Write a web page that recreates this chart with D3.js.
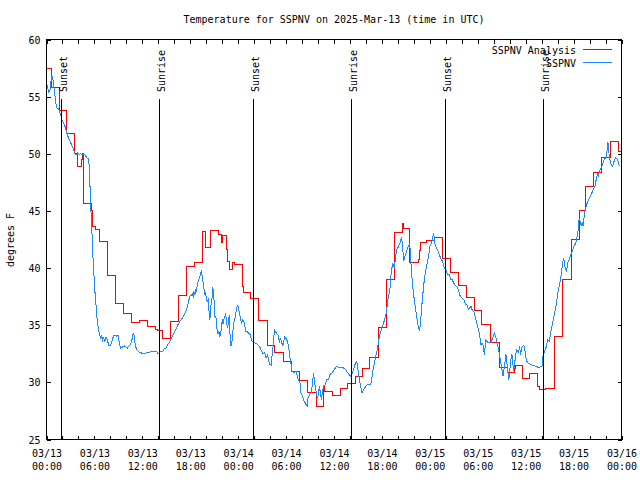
<!DOCTYPE html>
<html><head><meta charset="utf-8">
<script src="https://cdn.jsdelivr.net/npm/d3@7"></script>
<style>
body{margin:0;background:#fff}
svg{display:block;background:#fff}
text{font-family:"DejaVu Sans Mono","Liberation Mono",monospace;font-size:10px;fill:#000}
</style></head><body>
<svg id="chart" width="640" height="480"></svg>
<script>
// ---- data ----
const titleText = "Temperature for SSPNV on 2025-Mar-13 (time in UTC)";
const yLabelText = "degrees F";
const seriesNames = ["SSPNV Analysis", "SSPNV"];
const seriesColors = ["#ff0000", "#1a8cff"];
const xTickHours = d3.range(0, 73, 2);           // hours after 03/13 00:00
const xLabelHours = [0, 6, 12, 18, 24, 30, 36, 42, 48, 54, 60, 66, 72];
const xLabelDates = ["03/13","03/13","03/13","03/13","03/14","03/14","03/14","03/14","03/15","03/15","03/15","03/15","03/16"];
const xLabelTimes = ["00:00","06:00","12:00","18:00","00:00","06:00","12:00","18:00","00:00","06:00","12:00","18:00","00:00"];
const yTicks = [25, 30, 35, 40, 45, 50, 55, 60];
const eventNames = ["Sunset","Sunrise","Sunset","Sunrise","Sunset","Sunrise"];
const eventHours = [1.88, 14.15, 25.92, 38.19, 49.96, 62.23];

// analysis (hour, degF) - stepped
const analysis = [[0,57.43],[0.59,55.77],[1.58,53.79],[2.54,51.75],[3.55,50.0],[3.84,48.86],[4.42,49.5],[4.55,50.0],[4.67,45.65],[5.67,45.0],[5.8,43.65],[6.13,43.4],[6.6,42.36],[7.6,39.35],[8.58,36.88],[9.68,36.03],[10.64,35.2],[11.68,35.42],[12.7,34.87],[13.64,34.64],[13.85,34.5],[14.56,33.85],[15.52,35.3],[16.56,37.6],[17.52,40.17],[18.56,40.47],[19.52,43.24],[19.9,41.78],[20.55,43.32],[21.5,42.9],[21.95,42.2],[22.1,42.85],[22.5,41.6],[22.65,40.6],[22.9,39.87],[23.3,40.5],[23.55,40.3],[24.5,38.4],[24.65,37.84],[25.6,37.3],[26.6,35.4],[27.7,33.2],[28.55,32.64],[29.65,31.85],[30.7,30.98],[31.67,30.2],[32.7,29.08],[33.75,27.86],[34.67,29.6],[34.8,29.2],[35.75,28.85],[36.76,29.46],[37.71,29.9],[38.67,30.54],[39.6,31.18],[40.5,32.15],[41.6,34.8],[42.6,39.0],[43.55,43.08],[44.55,43.87],[44.7,43.5],[45.5,40.46],[46.6,40.75],[46.7,41.5],[46.85,42.2],[47.6,42.4],[48.56,42.7],[49.6,40.8],[50.6,39.65],[51.55,38.5],[52.53,37.4],[53.6,36.25],[54.5,35.06],[55.57,33.5],[56.7,31.3],[57.74,30.9],[58.6,31.2],[58.75,31.5],[59.6,30.3],[60.45,30.78],[61.5,29.66],[61.7,29.37],[62.5,29.5],[63.6,34.0],[64.6,39.0],[65.7,42.5],[66.8,45.0],[67.55,47.1],[68.46,48.4],[69.55,49.64],[70.67,51.04],[71.6,50.2],[72,50.2]];

// station observations (hour, degF)
const observed = [[0,56.06],[0.125,55.9],[0.25,55.4],[0.375,55.5],[0.46,55.6],[0.54,56.2],[0.67,56.85],[0.75,56.5],[0.79,56.7],[0.875,55.9],[1.0,55.6],[1.08,54.9],[1.2,54.3],[1.3,54.0],[1.5,53.97],[1.63,53.7],[1.8,53.4],[1.92,53.0],[2.13,52.7],[2.33,52.36],[2.54,51.84],[2.75,51.4],[2.96,51.1],[3.17,50.7],[3.38,50.4],[3.58,49.94],[3.79,49.94],[3.92,50.1],[4.13,49.94],[4.29,50.0],[4.54,49.94],[4.83,49.9],[5.04,49.65],[5.25,49.56],[5.375,48.8],[5.46,46.9],[5.54,45.4],[5.625,44.1],[5.71,42.8],[5.79,41.3],[5.875,40.2],[6.0,38.7],[6.125,37.3],[6.21,36.7],[6.29,35.8],[6.42,35.1],[6.54,34.5],[6.71,34.05],[6.79,33.76],[6.92,34.1],[7.04,33.7],[7.17,33.9],[7.29,33.5],[7.46,33.97],[7.625,33.7],[7.79,33.24],[8.0,33.24],[8.21,33.6],[8.375,34.05],[8.58,34.1],[8.79,34.05],[9.0,34.1],[9.125,33.3],[9.29,33.0],[9.54,33.1],[9.83,33.2],[10.125,33.0],[10.375,33.2],[10.54,33.3],[10.71,33.76],[10.875,34.34],[11.0,34.05],[11.125,33.2],[11.29,32.9],[11.5,32.7],[11.79,32.6],[12.125,32.5],[12.54,32.6],[12.875,32.65],[13.17,32.7],[13.46,32.65],[13.71,32.74],[14.0,32.5],[14.29,32.74],[14.54,32.7],[14.71,32.9],[14.96,33.0],[15.125,33.24],[15.375,33.5],[15.67,33.9],[15.875,34.2],[16.08,34.5],[16.29,34.8],[16.5,35.1],[16.71,35.36],[17.04,35.65],[17.25,35.95],[17.46,36.24],[17.67,36.7],[17.79,37.1],[17.96,37.55],[18.17,37.6],[18.29,37.84],[18.375,37.4],[18.46,37.9],[18.58,37.7],[18.71,38.13],[18.79,38.0],[18.92,38.7],[19.0,38.86],[19.21,39.3],[19.33,39.6],[19.42,39.74],[19.54,39.0],[19.67,38.57],[19.79,37.7],[19.92,37.84],[20.0,37.4],[20.125,37.1],[20.25,37.26],[20.33,36.4],[20.46,35.5],[20.58,36.7],[20.67,36.97],[20.75,37.6],[20.83,38.3],[20.92,37.84],[21.0,36.97],[21.08,35.8],[21.21,35.8],[21.29,35.07],[21.375,34.5],[21.46,34.2],[21.58,34.5],[21.71,34.05],[21.79,34.2],[21.92,34.8],[22.0,35.5],[22.125,35.07],[22.25,35.65],[22.42,35.95],[22.54,35.5],[22.625,34.8],[22.75,35.07],[22.875,35.86],[22.96,34.5],[23.04,33.24],[23.2,33.24],[23.29,34.34],[23.375,34.64],[23.5,35.45],[23.625,35.65],[23.79,36.4],[23.95,36.8],[24.16,36.1],[24.41,35.2],[24.57,35.5],[24.82,35.2],[24.9,34.5],[25.2,34.4],[25.49,34.2],[25.74,33.6],[26.24,33.4],[26.66,33.17],[27.08,32.5],[27.33,32.6],[27.49,32.15],[27.7,32.4],[27.91,31.56],[28.16,31.5],[28.24,32.3],[28.37,33.17],[28.45,33.75],[28.53,34.6],[28.78,34.33],[29.03,34.1],[29.16,33.46],[29.28,33.9],[29.49,33.4],[29.58,33.17],[29.83,33.98],[30.08,33.75],[30.33,33.17],[30.41,32.44],[30.54,32.0],[30.75,30.98],[31.0,30.83],[31.24,30.98],[31.5,30.25],[31.75,29.96],[31.87,29.08],[32.0,28.85],[32.25,28.35],[32.41,28.2],[32.54,27.98],[32.66,27.9],[32.75,28.65],[32.91,28.9],[33.16,29.08],[33.29,29.8],[33.42,30.78],[33.55,30.25],[33.67,29.5],[33.92,28.65],[34.04,28.93],[34.17,29.66],[34.42,28.5],[34.67,29.66],[34.92,29.8],[35.08,30.25],[35.33,30.25],[35.5,30.69],[35.75,30.83],[35.92,30.98],[36.25,31.36],[36.67,31.33],[37.08,31.33],[37.5,31.07],[37.71,30.83],[38.13,30.48],[38.42,31.07],[38.67,31.65],[38.84,31.85],[39.09,30.69],[39.26,29.96],[39.5,29.08],[39.84,29.5],[40.17,29.8],[40.5,29.8],[40.67,29.96],[40.88,31.1],[41.14,32.0],[41.46,33.0],[41.68,34.04],[42.09,34.9],[42.51,35.94],[42.76,37.25],[43.05,38.4],[43.13,39.3],[43.34,40.46],[43.55,40.0],[43.68,40.75],[43.84,41.6],[44.09,41.9],[44.26,42.2],[44.47,42.7],[44.6,41.9],[44.72,40.6],[45.01,41.33],[45.3,41.9],[45.43,42.06],[45.55,41.6],[45.68,39.87],[45.85,38.4],[46.1,36.95],[46.22,36.37],[46.47,35.2],[46.72,34.48],[46.93,36.08],[47.06,37.25],[47.31,39.0],[47.43,39.6],[47.73,40.6],[48.02,41.9],[48.27,42.35],[48.48,43.08],[48.68,41.9],[48.85,41.77],[49.1,41.33],[49.39,40.8],[49.6,40.6],[49.81,40.0],[50.02,39.87],[50.23,39.4],[50.44,39.4],[50.64,39.0],[50.77,39.0],[51.06,38.6],[51.48,38.3],[51.77,37.6],[52.02,37.4],[52.23,37.25],[52.52,36.8],[52.65,36.8],[52.85,36.4],[53.15,36.66],[53.27,36.37],[53.57,36.1],[53.77,35.5],[53.98,34.9],[54.19,34.33],[54.4,33.3],[54.53,33.46],[54.69,33.2],[54.82,32.44],[55.02,33.7],[55.11,33.6],[55.36,33.46],[55.65,33.46],[55.86,33.9],[56.07,34.33],[56.36,33.75],[56.61,32.87],[56.9,31.7],[57.15,30.54],[57.4,31.7],[57.53,32.44],[57.78,30.83],[57.9,30.25],[58.15,32.0],[58.28,32.44],[58.49,30.98],[58.74,32.3],[58.86,32.87],[59.11,32.6],[59.24,33.17],[59.36,32.44],[59.49,33.0],[59.62,33.17],[59.78,33.23],[59.95,32.6],[60.07,32.0],[60.24,31.7],[60.86,31.5],[61.28,31.4],[61.62,31.3],[62.04,31.4],[62.2,32.44],[62.62,33.17],[62.75,33.75],[62.96,33.6],[63.2,34.6],[63.37,35.2],[63.62,36.08],[63.79,36.66],[64.04,37.84],[64.2,38.4],[64.37,39.0],[64.5,39.73],[64.62,40.46],[64.75,40.9],[64.95,40.0],[65.12,39.73],[65.3,40.5],[65.46,40.75],[65.65,41.2],[65.87,41.5],[66.04,41.9],[66.29,42.2],[66.54,43.08],[66.63,43.96],[66.71,44.4],[66.85,44.0],[66.96,43.67],[67.08,44.0],[67.17,43.67],[67.29,44.25],[67.38,44.83],[67.63,45.56],[67.88,46.0],[68.21,46.44],[68.38,46.73],[68.67,47.17],[68.79,47.6],[68.92,48.0],[69.04,48.33],[69.12,48.0],[69.21,48.48],[69.55,48.9],[69.71,49.26],[69.88,49.55],[70.05,49.6],[70.21,50.37],[70.3,51.0],[70.38,50.6],[70.46,49.8],[70.6,49.3],[70.71,49.06],[70.88,48.9],[71.05,49.3],[71.22,49.64],[71.5,49.5],[71.71,48.97],[71.85,48.9]];

// ---- drawing ----
const svg = d3.select("#chart");
const L = 46.5, R = 621.5, T = 39.5, B = 439.5;
const x = d3.scaleLinear().domain([0, 72]).range([L, R]);
const y = d3.scaleLinear().domain([25, 60]).range([B, T]);

svg.append("rect").attr("width", 640).attr("height", 480).attr("fill", "#fff");

svg.append("clipPath").attr("id", "clip").append("rect")
  .attr("x", L).attr("y", T).attr("width", R - L).attr("height", B - T);

// axes (ticks inward, gnuplot style)
const gB = svg.append("g").attr("transform", `translate(0,${B})`)
  .call(d3.axisBottom(x).tickValues(xTickHours).tickSizeInner(-4).tickSizeOuter(0)
    .tickFormat(h => { const i = xLabelHours.indexOf(h); return i < 0 ? "" : xLabelDates[i] + "|" + xLabelTimes[i]; }));
gB.selectAll(".tick text").each(function(d) {
  const t = d3.select(this); const s = t.text(); t.text(null).attr("y", 0).attr("dy", null);
  if (!s) return;
  const parts = s.split("|");
  t.append("tspan").attr("x", 0).attr("y", 14).attr("dominant-baseline", "central").text(parts[0]);
  t.append("tspan").attr("x", 0).attr("y", 26.5).attr("dominant-baseline", "central").text(parts[1]);
});
const gT = svg.append("g").attr("transform", `translate(0,${T})`)
  .call(d3.axisTop(x).tickValues(xTickHours).tickSizeInner(-4).tickSizeOuter(0).tickFormat(""));
const gL = svg.append("g").attr("transform", `translate(${L},0)`)
  .call(d3.axisLeft(y).tickValues(yTicks).tickSizeInner(-4).tickSizeOuter(0).tickPadding(6).tickFormat(d3.format("d")));
gL.selectAll(".tick text").attr("dy", null).attr("dominant-baseline", "central");
const gR = svg.append("g").attr("transform", `translate(${R},0)`)
  .call(d3.axisRight(y).tickValues(yTicks).tickSizeInner(-4).tickSizeOuter(0).tickFormat(""));
[gB, gT, gL, gR].forEach(g => {
  g.select(".domain").remove();
  g.selectAll("line").attr("stroke", "#000").attr("shape-rendering", "crispEdges");
  g.selectAll("text").attr("font-family", null).attr("font-size", null).attr("fill", "#000");
});

// series
const line = d3.line().x(d => x(d[0])).y(d => y(d[1]));
const plot = svg.append("g").attr("clip-path", "url(#clip)");
plot.append("path").datum(analysis)
  .attr("d", line.curve(d3.curveStepAfter)(analysis))
  .attr("fill", "none").attr("stroke", seriesColors[0]).attr("stroke-width", 1)
  .attr("shape-rendering", "crispEdges");
plot.append("path").datum(observed)
  .attr("d", d3.line().x(d => x(d[0])).y(d => y(d[1]))(observed))
  .attr("fill", "none").attr("stroke", seriesColors[1]).attr("stroke-width", 1)
  .attr("shape-rendering", "crispEdges");

// sunrise / sunset markers
const ev = svg.append("g");
eventHours.forEach((h, i) => {
  const xp = Math.round(x(h) - 0.5) + 0.5;
  ev.append("line").attr("x1", xp).attr("x2", xp).attr("y1", 99).attr("y2", B)
    .attr("stroke", "#000").attr("stroke-width", 1).attr("shape-rendering", "crispEdges");
  ev.append("text").attr("transform", `translate(${xp + 5},92) rotate(-90)`)
    .attr("text-anchor", "start").text(eventNames[i]);
});

// border
svg.append("rect").attr("x", L).attr("y", T).attr("width", R - L).attr("height", B - T)
  .attr("fill", "none").attr("stroke", "#000").attr("shape-rendering", "crispEdges");

// title & y label
svg.append("text").attr("x", (L + R) / 2).attr("y", 19.5).attr("text-anchor", "middle")
  .attr("dominant-baseline", "central").text(titleText);
svg.append("text").attr("transform", "translate(10,240) rotate(-90)")
  .attr("text-anchor", "middle").attr("dominant-baseline", "central").text(yLabelText);

// legend
const lg = svg.append("g");
seriesNames.forEach((n, i) => {
  const yy = 49.5 + i * 13;
  lg.append("text").attr("x", 576).attr("y", yy + 0.5).attr("text-anchor", "end")
    .attr("dominant-baseline", "central").text(n);
  lg.append("line").attr("x1", 583).attr("x2", 612).attr("y1", yy).attr("y2", yy)
    .attr("stroke", seriesColors[i]).attr("shape-rendering", "crispEdges");
});
</script>
</body></html>
